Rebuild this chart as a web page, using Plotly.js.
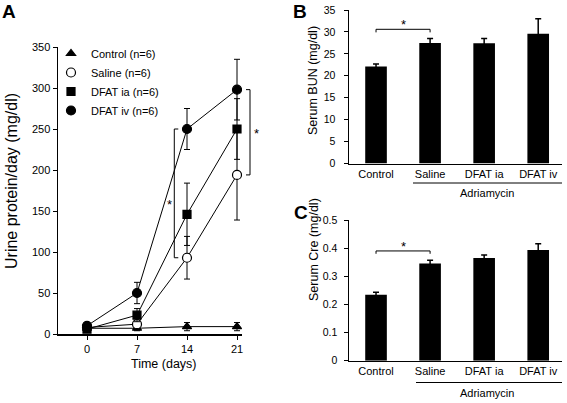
<!DOCTYPE html>
<html><head><meta charset="utf-8">
<script src="https://cdn.plot.ly/plotly-3.0.1.min.js"></script>
<style>html,body{margin:0;padding:0;background:#fff}#chart{width:567px;height:403px}</style>
</head><body><div id="chart"></div>
<script>
// Panel A: urine protein over time
const days = [0, 7, 14, 21];
const seriesNames = ['Control (n=6)', 'Saline (n=6)', 'DFAT ia (n=6)', 'DFAT iv (n=6)'];
const controlMean = [7, 7, 9, 9];
const controlErr = [2, 3, 5, 5];
const salineMean = [8, 12, 93, 194];
const salineErr = [2, 4, 26, 55];
const iaMean = [6, 23, 146, 250];
const iaErr = [2, 8, 38, 37];
const ivMean = [10, 50, 250, 298];
const ivErr = [3, 13, 25, 37];

// Panels B and C
const groups = ['Control', 'Saline', 'DFAT ia', 'DFAT iv'];
const bunMean = [22.1, 27.5, 27.4, 29.6];
const bunErr = [0.6, 1.0, 1.1, 3.4];
const creMean = [0.234, 0.345, 0.365, 0.393];
const creErr = [0.009, 0.012, 0.011, 0.023];

const FF = 'Liberation Sans, Arial, Helvetica, sans-serif';
const BLK = '#000';

const seriesData = [
  {name: seriesNames[0], y: controlMean, e: controlErr, symbol: 'triangle-up', size: 8, fill: BLK},
  {name: seriesNames[1], y: salineMean, e: salineErr, symbol: 'circle', size: 9, fill: '#fff'},
  {name: seriesNames[2], y: iaMean, e: iaErr, symbol: 'square', size: 8, fill: BLK},
  {name: seriesNames[3], y: ivMean, e: ivErr, symbol: 'circle', size: 9, fill: BLK}
];

const traces = [];
seriesData.forEach(s => {
  traces.push({x: days, y: s.y, type: 'scatter', mode: 'lines', xaxis: 'x', yaxis: 'y',
    line: {color: BLK, width: 1}, showlegend: false, hoverinfo: 'skip'});
});
seriesData.forEach(s => {
  traces.push({x: days, y: s.y, type: 'scatter', mode: 'markers', name: s.name, xaxis: 'x', yaxis: 'y',
    marker: {symbol: s.symbol, size: s.size, color: s.fill, line: {color: BLK, width: 1.2}},
    error_y: {type: 'data', array: s.e, visible: true, color: BLK, thickness: 1, width: 3}});
});

traces.push({x: groups, y: bunMean, type: 'bar', xaxis: 'x2', yaxis: 'y2', width: 0.4,
  marker: {color: BLK}, showlegend: false,
  error_y: {type: 'data', array: bunErr, visible: true, color: BLK, thickness: 1.5, width: 3}});
traces.push({x: groups, y: creMean, type: 'bar', xaxis: 'x3', yaxis: 'y3', width: 0.4,
  marker: {color: BLK}, showlegend: false,
  error_y: {type: 'data', array: creErr, visible: true, color: BLK, thickness: 1.5, width: 3}});

const W = 567, H = 403;
const px = v => v / W;
const py = v => (H - v) / H;

const yAxisBase = {showline: true, linecolor: BLK, linewidth: 1.5, ticks: 'outside', ticklen: 4, tickcolor: BLK,
  showgrid: false, zeroline: false, fixedrange: true};

const layout = {
  width: W, height: H, margin: {l: 0, r: 0, t: 0, b: 0},
  paper_bgcolor: '#fff', plot_bgcolor: 'rgba(0,0,0,0)',
  font: {family: FF, color: BLK, size: 11},
  showlegend: true,
  legend: {x: px(51), y: py(39), xanchor: 'left', yanchor: 'top', bgcolor: 'rgba(0,0,0,0)',
    font: {family: FF, size: 11, color: BLK}, traceorder: 'normal', itemwidth: 30},
  xaxis: Object.assign({}, yAxisBase, {domain: [px(58), px(242)], range: [-4.06, 21.7], tickvals: days,
    ticktext: days.map(String), anchor: 'y', tickfont: {size: 11}}),
  yaxis: Object.assign({}, yAxisBase, {domain: [py(334), py(47)], range: [0, 350], dtick: 50, anchor: 'x',
    tickfont: {size: 11}}),
  xaxis2: {domain: [px(349), px(562)], range: [-0.5, 3.44], type: 'category', anchor: 'y2',
    showline: true, linecolor: BLK, linewidth: 1.5, ticks: '', showgrid: false, zeroline: false,
    tickfont: {size: 11}},
  yaxis2: Object.assign({}, yAxisBase, {domain: [py(163.5), py(10)], range: [0, 35], dtick: 5, anchor: 'x2',
    tickfont: {size: 10.5}, ticklabelstandoff: 6}),
  xaxis3: {domain: [px(349), px(562)], range: [-0.5, 3.44], type: 'category', anchor: 'y3',
    showline: true, linecolor: BLK, linewidth: 1.5, ticks: '', showgrid: false, zeroline: false,
    tickfont: {size: 11}},
  yaxis3: Object.assign({}, yAxisBase, {domain: [py(360.7), py(220)], range: [0, 0.5], dtick: 0.1, anchor: 'x3',
    tickfont: {size: 10.5}, ticklabelstandoff: 4}),
  shapes: [], annotations: []
};

const ln = {color: BLK, width: 1};
const ann = (o) => layout.annotations.push(Object.assign({showarrow: false, xanchor: 'center', yanchor: 'middle'}, o,
  {font: Object.assign({family: FF, color: BLK}, o.font || {})}));

// Panel A brackets
const bx14 = 12.22, bx14t = 12.78;
layout.shapes.push({type: 'line', xref: 'x', yref: 'y', x0: bx14, x1: bx14, y0: ivMean[2], y1: salineMean[2], line: ln});
layout.shapes.push({type: 'line', xref: 'x', yref: 'y', x0: bx14, x1: bx14t, y0: ivMean[2], y1: ivMean[2], line: ln});
layout.shapes.push({type: 'line', xref: 'x', yref: 'y', x0: bx14, x1: bx14t, y0: salineMean[2], y1: salineMean[2], line: ln});
layout.shapes.push({type: 'line', xref: 'paper', yref: 'y', x0: px(250), x1: px(250), y0: ivMean[3], y1: salineMean[3], line: ln});
layout.shapes.push({type: 'line', xref: 'paper', yref: 'y', x0: px(246), x1: px(250), y0: ivMean[3], y1: ivMean[3], line: ln});
layout.shapes.push({type: 'line', xref: 'paper', yref: 'y', x0: px(246), x1: px(250), y0: salineMean[3], y1: salineMean[3], line: ln});
ann({xref: 'paper', yref: 'y', x: px(169), y: 158, text: '*', font: {size: 13}});
ann({xref: 'paper', yref: 'y', x: px(256), y: 245, text: '*', font: {size: 13}});

// Panel B bracket
layout.shapes.push({type: 'path', xref: 'x2', yref: 'y2',
  path: 'M0,29.9 L0,30.6 L1,30.6 L1,29.9', line: ln});
ann({xref: 'x2', yref: 'y2', x: 0.5, y: 31.8, text: '*', font: {size: 13}});
// Panel C bracket
layout.shapes.push({type: 'path', xref: 'x3', yref: 'y3',
  path: 'M0,0.38 L0,0.39 L1,0.39 L1,0.38', line: ln});
ann({xref: 'x3', yref: 'y3', x: 0.5, y: 0.405, text: '*', font: {size: 13}});

// Adriamycin underlines
layout.shapes.push({type: 'line', xref: 'paper', yref: 'paper', x0: px(413), x1: px(562), y0: py(183), y1: py(183), line: ln});
layout.shapes.push({type: 'line', xref: 'paper', yref: 'paper', x0: px(416), x1: px(562), y0: py(382.5), y1: py(382.5), line: ln});
ann({xref: 'paper', yref: 'paper', x: px(487), y: py(193), text: 'Adriamycin', font: {size: 11}});
ann({xref: 'paper', yref: 'paper', x: px(487), y: py(393), text: 'Adriamycin', font: {size: 11}});

// Axis titles
ann({xref: 'paper', yref: 'paper', x: px(11), y: py(181), text: 'Urine protein/day (mg/dl)', textangle: -90, font: {size: 16}});
ann({xref: 'paper', yref: 'paper', x: px(164), y: py(364), text: 'Time (days)', font: {size: 12.5}});
ann({xref: 'paper', yref: 'paper', x: px(313), y: py(81), text: 'Serum BUN (mg/dl)', textangle: -90, font: {size: 12.5}});
ann({xref: 'paper', yref: 'paper', x: px(314), y: py(250), text: 'Serum Cre (mg/dl)', textangle: -90, font: {size: 12.5}});

// Panel letters
[['A', 9, 11], ['B', 300, 11], ['C', 301, 212]].forEach(([t, x, y]) => {
  ann({xref: 'paper', yref: 'paper', x: px(x), y: py(y), text: '<b>' + t + '</b>', font: {size: 19}});
});

Plotly.newPlot('chart', traces, layout, {displayModeBar: false, staticPlot: true});
</script>
</body></html>
